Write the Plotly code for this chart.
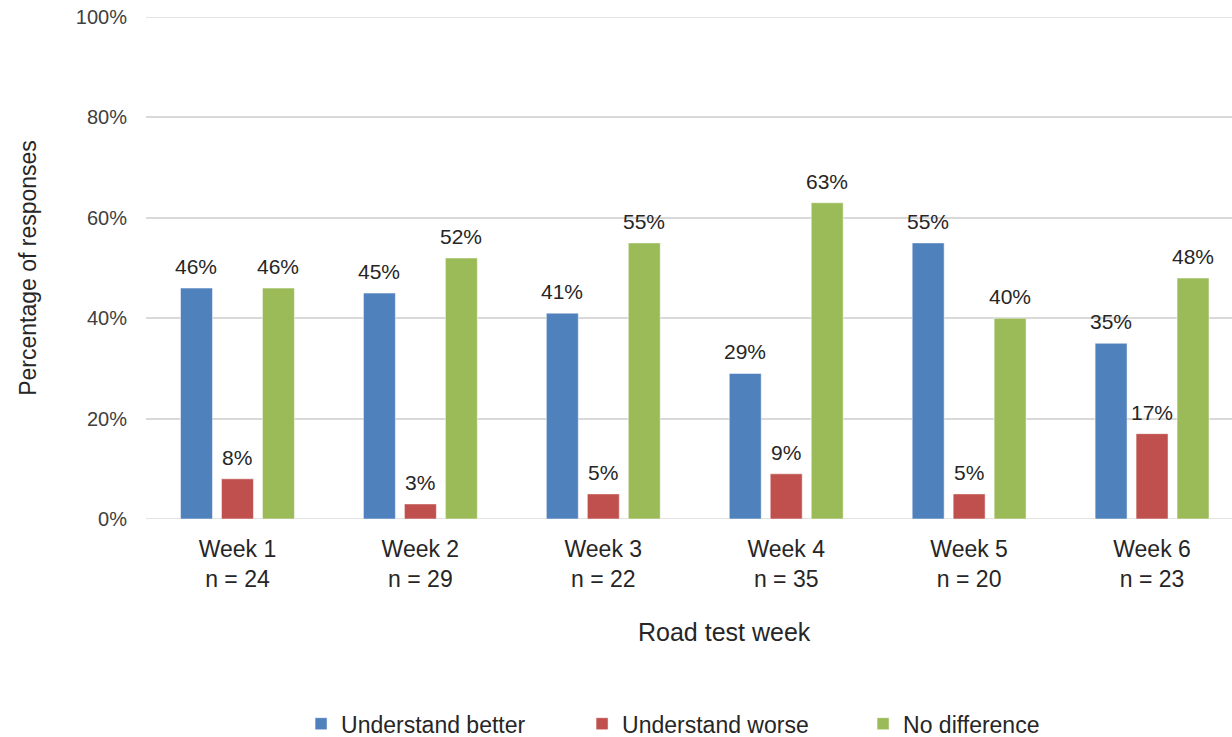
import plotly.graph_objects as go

categories = ["Week 1<br>n = 24", "Week 2<br>n = 29", "Week 3<br>n = 22",
              "Week 4<br>n = 35", "Week 5<br>n = 20", "Week 6<br>n = 23"]
better = [46, 45, 41, 29, 55, 35]
worse = [8, 3, 5, 9, 5, 17]
nodiff = [46, 52, 55, 63, 40, 48]
ytick_vals = [0, 20, 40, 60, 80, 100]
ytick_text = ["0%", "20%", "40%", "60%", "80%", "100%"]

series = [("Understand better", better, "#4F81BD"),
          ("Understand worse", worse, "#C0504D"),
          ("No difference", nodiff, "#9BBB59")]

FONT = "Liberation Sans, Arial, sans-serif"
TXT = "#404040"
DARK = "#262626"

fig = go.Figure()
for name, vals, col in series:
    fig.add_trace(go.Bar(x=categories, y=vals, name=name,
                         marker=dict(color=col, line=dict(color="white", width=0.5))))

# data labels
pitch_px = 41
for i, (name, vals, col) in enumerate(series):
    for c, v in zip(categories, vals):
        fig.add_annotation(x=c, y=v, text=f"{v}%", showarrow=False,
                           xshift=(i - 1) * pitch_px, yshift=8, yanchor="bottom",
                           font=dict(family=FONT, size=21, color=DARK))

# boundary gridlines (0% and 100%)
for yv in (ytick_vals[0], ytick_vals[-1]):
    fig.add_hline(y=yv, line=dict(color="#D9D9D9", width=1.5), layer="below")

# x-axis title
fig.add_annotation(text="Road test week", xref="paper", yref="paper",
                   x=0.533, y=-0.225, xanchor="center", yanchor="middle",
                   showarrow=False, font=dict(family=FONT, size=25, color=DARK))

fig.update_layout(
    width=1232, height=737,
    margin=dict(l=146, r=0, t=17, b=218),
    plot_bgcolor="white", paper_bgcolor="white",
    barmode="group", bargap=0.328, bargroupgap=0.22,
    font=dict(family=FONT, color=TXT, size=20),
    showlegend=True,
    legend=dict(orientation="h", xref="container", yref="container",
                x=0.5865, xanchor="center", y=0.018, yanchor="middle",
                font=dict(size=23, color=DARK),
                entrywidth=236, entrywidthmode="pixels"),
)
fig.update_xaxes(range=[-0.5, 5.437], showgrid=False, showline=False,
                 ticks="", tickfont=dict(size=23, color=DARK),
                 ticklabelstandoff=14)
fig.update_yaxes(range=[0, 100], tickvals=ytick_vals, ticktext=ytick_text,
                 showgrid=True, gridcolor="#D9D9D9", gridwidth=1.5, zeroline=False,
                 showline=False, tickfont=dict(size=20, color=TXT),
                 ticklabelstandoff=18,
                 title=dict(text="Percentage of responses", font=dict(size=23, color=DARK), standoff=32))

fig.write_html("out.html")
